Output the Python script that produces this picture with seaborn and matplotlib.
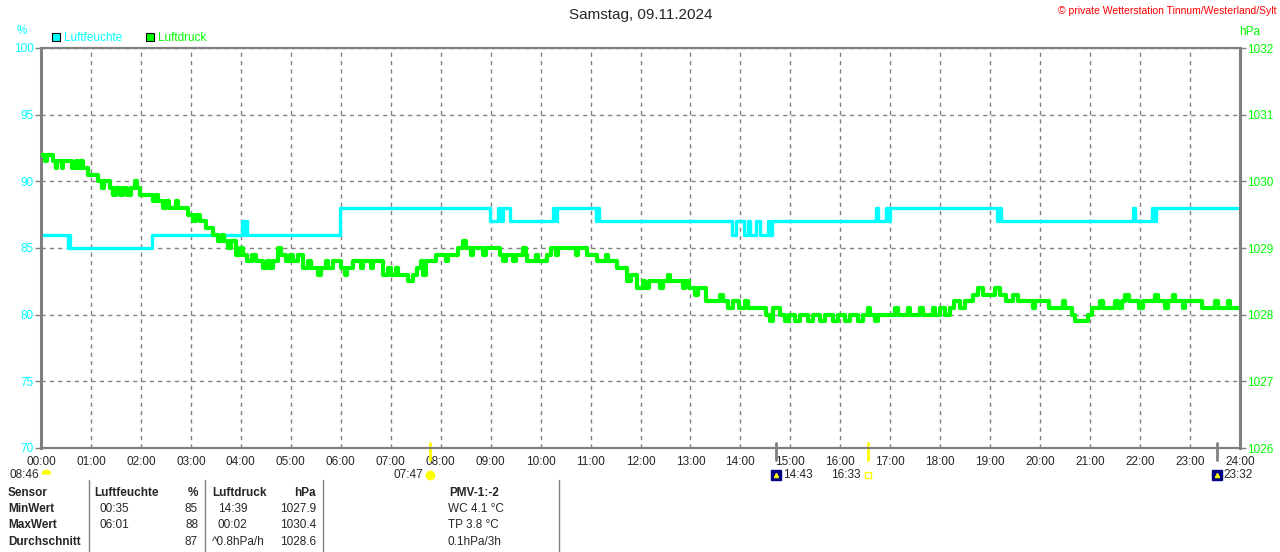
"""
Tagesgrafik Luftfeuchte / Luftdruck, Samstag 09.11.2024.
"""

import matplotlib
matplotlib.use("Agg")
import matplotlib.pyplot as plt
from matplotlib.patches import Rectangle
from matplotlib.lines import Line2D
import seaborn as sns

# --- Data ---
hum_time = [0.00, 0.55, 0.57, 0.59, 2.22, 4.02, 4.06, 4.10, 4.13, 5.98,
            8.98, 9.15, 9.20, 9.25, 9.38, 10.25, 10.30, 10.33, 11.10, 11.13,
            11.17, 13.84, 13.92, 14.08, 14.15, 14.20, 14.32, 14.40, 14.55,
            14.60, 14.64, 16.72, 16.76, 16.92, 16.96, 17.00, 19.14, 19.18,
            19.22, 21.86, 21.90, 22.24, 22.28, 22.32, 24.00]
hum_val = [86, 85, 86, 85, 86, 87, 86, 87, 86, 88,
           87, 88, 87, 88, 87, 88, 87, 88, 87, 88,
           87, 86, 87, 86, 87, 86, 87, 86, 87,
           86, 87, 88, 87, 88, 87, 88, 87, 88,
           87, 88, 87, 88, 87, 88, 88]

pres_time = [0.00, 0.08, 0.12, 0.25, 0.30, 0.33, 0.42, 0.45, 0.62, 0.70,
             0.74, 0.80, 0.84, 0.95, 1.15, 1.22, 1.26, 1.38, 1.45, 1.50,
             1.58, 1.65, 1.72, 1.80, 1.88, 1.92, 1.98, 2.24, 2.30, 2.34,
             2.44, 2.50, 2.56, 2.70, 2.74, 2.95, 3.05, 3.10, 3.18, 3.30,
             3.45, 3.55, 3.62, 3.66, 3.75, 3.80, 3.90, 3.98, 4.05, 4.12,
             4.22, 4.30, 4.45, 4.52, 4.58, 4.65, 4.75, 4.80, 4.90, 4.98,
             5.05, 5.15, 5.24, 5.35, 5.40, 5.55, 5.60, 5.70, 5.75, 5.85,
             6.00, 6.08, 6.12, 6.24, 6.40, 6.45, 6.60, 6.65, 6.84, 6.95,
             7.00, 7.10, 7.15, 7.35, 7.45, 7.52, 7.60, 7.65, 7.70, 7.90,
             8.10, 8.15, 8.35, 8.45, 8.50, 8.60, 8.65, 8.85, 8.90, 9.18,
             9.25, 9.30, 9.45, 9.50, 9.65, 9.70, 9.72, 9.90, 9.95, 10.12,
             10.20, 10.30, 10.35, 10.70, 10.75, 10.92, 11.12, 11.30, 11.35, 11.52,
             11.72, 11.80, 11.92, 12.05, 12.10, 12.18, 12.40, 12.45, 12.55, 12.60,
             12.85, 12.90, 12.98, 13.10, 13.15, 13.32, 13.60, 13.65, 13.75, 13.85,
             13.98, 14.10, 14.15, 14.52, 14.60, 14.65, 14.80, 14.90, 14.98, 15.10,
             15.20, 15.35, 15.45, 15.60, 15.70, 15.85, 15.95, 16.10, 16.20, 16.35,
             16.45, 16.56, 16.60, 16.70, 16.75, 17.10, 17.15, 17.35, 17.40, 17.60,
             17.65, 17.85, 17.90, 18.00, 18.10, 18.20, 18.28, 18.40, 18.50, 18.65,
             18.75, 18.85, 19.10, 19.20, 19.32, 19.45, 19.55, 19.85, 19.90, 20.18,
             20.45, 20.50, 20.64, 20.70, 20.80, 20.95, 21.04, 21.20, 21.25, 21.50,
             21.55, 21.64, 21.70, 21.78, 21.98, 22.05, 22.30, 22.35, 22.50, 22.55,
             22.65, 22.70, 22.85, 22.90, 23.24, 23.50, 23.55, 23.75, 23.80, 24.00]
pres_val = [1030.4, 1030.3, 1030.4, 1030.3, 1030.2, 1030.3, 1030.2, 1030.3, 1030.2, 1030.3,
            1030.2, 1030.3, 1030.2, 1030.1, 1030.0, 1029.9, 1030.0, 1029.9, 1029.8, 1029.9,
            1029.8, 1029.9, 1029.8, 1029.9, 1030.0, 1029.9, 1029.8, 1029.7, 1029.8, 1029.7,
            1029.6, 1029.7, 1029.6, 1029.7, 1029.6, 1029.5, 1029.4, 1029.5, 1029.4, 1029.3,
            1029.2, 1029.1, 1029.2, 1029.1, 1029.0, 1029.1, 1028.9, 1029.0, 1028.9, 1028.8,
            1028.9, 1028.8, 1028.7, 1028.8, 1028.7, 1028.8, 1029.0, 1028.9, 1028.8, 1028.9,
            1028.8, 1028.9, 1028.7, 1028.8, 1028.7, 1028.6, 1028.7, 1028.8, 1028.7, 1028.8,
            1028.7, 1028.6, 1028.7, 1028.8, 1028.7, 1028.8, 1028.7, 1028.8, 1028.6, 1028.7,
            1028.6, 1028.7, 1028.6, 1028.5, 1028.6, 1028.7, 1028.8, 1028.6, 1028.8, 1028.9,
            1028.8, 1028.9, 1029.0, 1029.1, 1029.0, 1028.9, 1029.0, 1028.9, 1029.0, 1028.9,
            1028.8, 1028.9, 1028.8, 1028.9, 1029.0, 1028.9, 1028.8, 1028.9, 1028.8, 1028.9,
            1029.0, 1028.9, 1029.0, 1028.9, 1029.0, 1028.9, 1028.8, 1028.9, 1028.8, 1028.7,
            1028.5, 1028.6, 1028.4, 1028.5, 1028.4, 1028.5, 1028.4, 1028.5, 1028.6, 1028.5,
            1028.4, 1028.5, 1028.4, 1028.3, 1028.4, 1028.2, 1028.3, 1028.2, 1028.1, 1028.2,
            1028.1, 1028.2, 1028.1, 1028.0, 1027.9, 1028.1, 1028.0, 1027.9, 1028.0, 1027.9,
            1028.0, 1027.9, 1028.0, 1027.9, 1028.0, 1027.9, 1028.0, 1027.9, 1028.0, 1027.9,
            1028.0, 1028.1, 1028.0, 1027.9, 1028.0, 1028.1, 1028.0, 1028.1, 1028.0, 1028.1,
            1028.0, 1028.1, 1028.0, 1028.1, 1028.0, 1028.1, 1028.2, 1028.1, 1028.2, 1028.3,
            1028.4, 1028.3, 1028.4, 1028.3, 1028.2, 1028.3, 1028.2, 1028.1, 1028.2, 1028.1,
            1028.2, 1028.1, 1028.0, 1027.9, 1027.9, 1028.0, 1028.1, 1028.2, 1028.1, 1028.2,
            1028.1, 1028.2, 1028.3, 1028.2, 1028.1, 1028.2, 1028.3, 1028.2, 1028.1, 1028.2,
            1028.3, 1028.2, 1028.1, 1028.2, 1028.1, 1028.2, 1028.1, 1028.2, 1028.1, 1028.1]

hour_ticks = list(range(25))
hour_labels = [f"{h:02d}:00" for h in hour_ticks]
hum_ticks = [70, 75, 80, 85, 90, 95, 100]
pres_ticks = [1026, 1027, 1028, 1029, 1030, 1031, 1032]

# sun / moon events below the time axis
event_time = [7 + 47 / 60, 14 + 43 / 60, 16 + 33 / 60, 23 + 32 / 60]
event_label = ["07:47", "14:43", "16:33", "23:32"]
event_color = ["#FFFF00", "#808080", "#FFFF00", "#808080"]

table_rows = [
    ["Sensor", "Luftfeuchte", "%", "Luftdruck", "hPa", "PMV-1:-2"],
    ["MinWert", "00:35", "85", "14:39", "1027.9", "WC 4.1 °C"],
    ["MaxWert", "06:01", "88", "00:02", "1030.4", "TP 3.8 °C"],
    ["Durchschnitt", "", "87", "^0.8hPa/h", "1028.6", "0.1hPa/3h"],
]

CYAN = "#00FFFF"
GREEN = "#00FF00"
GRAY = "#808080"
W, H = 1280, 552


def px(x, y):
    return x / W, 1 - y / H


sns.set_style("white")
plt.rcParams["font.family"] = ["Liberation Sans", "DejaVu Sans"]
plt.rcParams["font.size"] = 8.5

fig = plt.figure(figsize=(12.8, 5.52), dpi=100)
ax = fig.add_axes([41 / W, 1 - 448 / H, 1199 / W, 400 / H])
ax2 = ax.twinx()

sns.lineplot(x=hum_time, y=hum_val, ax=ax, color=CYAN, linewidth=2.4,
             drawstyle="steps-post", estimator=None)
sns.lineplot(x=pres_time, y=pres_val, ax=ax2, color=GREEN, linewidth=3.0,
             drawstyle="steps-post", estimator=None)

ax.set_xlim(0, 24)
ax.set_ylim(70, 100)
ax2.set_ylim(1026, 1032)
ax.set_xticks(hour_ticks)
ax.set_xticklabels(hour_labels)
ax.set_yticks(hum_ticks)
ax.set_yticklabels([str(v) for v in hum_ticks], color=CYAN)
ax2.set_yticks(pres_ticks)
ax2.set_yticklabels([str(v) for v in pres_ticks], color=GREEN)
ax.tick_params(axis="x", bottom=False, length=0, pad=5.5, labelsize=8.5)
ax.tick_params(axis="y", left=True, right=False, direction="out", length=4,
               width=1, color=GRAY, pad=1, labelsize=8.5)
ax2.tick_params(axis="y", left=False, right=True, direction="out", length=4,
                width=1, color=GRAY, pad=1, labelsize=8.5)
ax.set_xlabel("")
ax.set_ylabel("")
ax2.set_ylabel("")

ax.grid(True, linestyle=(0, (3, 3)), color=GRAY, linewidth=1)
ax2.grid(False)
ax.set_axisbelow(True)

for name, sp in ax.spines.items():
    sp.set_color(GRAY)
    sp.set_linewidth(2.2 if name in ("left", "right") else 1.6)
for name, sp in ax2.spines.items():
    sp.set_visible(name == "right")
    sp.set_color(GRAY)
    sp.set_linewidth(2.2)

# title and header texts
fig.text(*px(641, 15), "Samstag, 09.11.2024", ha="center", va="center", fontsize=11)
fig.text(*px(1276, 11), "© private Wetterstation Tinnum/Westerland/Sylt",
         ha="right", va="center", fontsize=7.5, color="#FF0000")
fig.text(*px(22, 31), "%", ha="center", va="center", color=CYAN, fontsize=8.5)
fig.text(*px(1250, 32), "hPa", ha="center", va="center", color=GREEN, fontsize=8.5)

# legend
for lx, col, lab in [(52, CYAN, "Luftfeuchte"), (146, GREEN, "Luftdruck")]:
    fig.patches.append(Rectangle(px(lx, 41), 8 / W, 8 / H, transform=fig.transFigure,
                                 facecolor=col, edgecolor="black", linewidth=0.8))
    fig.text(*px(lx + 12, 38), lab, ha="left", va="center", color=col, fontsize=8.5)

# sun / moon markers below the axis
xt = ax.get_xaxis_transform()
ev_y = -0.0675
for t, lab, col in zip(event_time, event_label, event_color):
    ax.plot([t, t], [0.012, -0.03], color=col, linewidth=2, transform=xt, clip_on=False)
    if col == GRAY:
        ax.plot([t], [ev_y], marker="s", markersize=7, color="#000080",
                transform=xt, clip_on=False)
        ax.plot([t], [ev_y], marker="^", markersize=3, color="#FFFF00",
                transform=xt, clip_on=False)
        ax.annotate(lab, (t, ev_y), xycoords=xt, xytext=(5, 0),
                    textcoords="offset points", ha="left", va="center", fontsize=8.5)
    else:
        big = lab == "07:47"
        ax.plot([t], [ev_y], marker="o" if big else "s", markersize=6 if big else 5,
                markerfacecolor="#FFFF00" if big else "none",
                markeredgecolor="#FFFF00", transform=xt, clip_on=False)
        ax.annotate(lab, (t, ev_y), xycoords=xt, xytext=(-5, 0),
                    textcoords="offset points", ha="right", va="center", fontsize=8.5)

fig.text(*px(10, 475), "08:46", ha="left", va="center", fontsize=8.5)
ax.plot([0.1], [ev_y + 0.003], marker="o", markersize=7, fillstyle="top",
        markerfacecoloralt="none", markeredgewidth=0, color="#FFFF00",
        transform=xt, clip_on=False)

# statistics table
for lx in [89, 205, 323, 559]:
    fig.add_artist(Line2D([lx / W, lx / W], [1 - 480 / H, 0], color=GRAY,
                          linewidth=1, transform=fig.transFigure))

row_y = [493, 509, 525, 542]
for i, (row, ry) in enumerate(zip(table_rows, row_y)):
    head = i == 0
    wt = "bold" if head else "normal"
    fig.text(*px(8, ry), row[0], ha="left", va="center", fontweight="bold")
    fig.text(*px(94 if head else 100, ry), row[1], ha="left", va="center", fontweight=wt)
    fig.text(*px(198, ry), row[2], ha="right", va="center", fontweight=wt)
    fig.text(*px(212 if head or i == 3 else 218, ry), row[3], ha="left", va="center",
             fontweight=wt)
    fig.text(*px(316, ry), row[4], ha="right", va="center", fontweight=wt)
    if head:
        fig.text(*px(474, ry), row[5], ha="center", va="center", fontweight="bold")
    else:
        fig.text(*px(448, ry), row[5], ha="left", va="center")

fig.savefig("out.png", dpi=100)
